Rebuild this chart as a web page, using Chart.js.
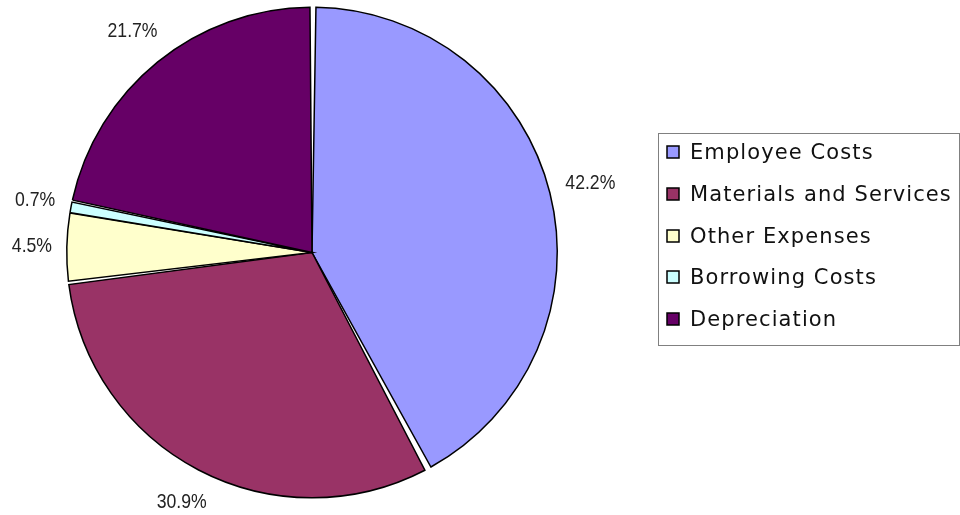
<!DOCTYPE html>
<html>
<head>
<meta charset="utf-8">
<title>Expenses by Type</title>
<script src="https://cdn.jsdelivr.net/npm/chart.js@4.4.1/dist/chart.umd.min.js"></script>
<style>
  html, body { margin: 0; padding: 0; background: #ffffff; }
  #wrap { width: 960px; height: 515px; position: relative; }
</style>
</head>
<body>
<div id="wrap"><canvas id="chart" width="960" height="515"></canvas></div>
<script>
// Expense categories and their share of total (%)
const categories = ['Employee Costs', 'Materials and Services', 'Other Expenses', 'Borrowing Costs', 'Depreciation'];
const shares = [42.2, 30.9, 4.5, 0.7, 21.7];
const sliceColors = ['#9999FF', '#993366', '#FFFFCC', '#CCFFFF', '#660066'];

// Percentage labels placed just outside each slice (condensed lettering)
const outerLabels = {
  id: 'outerLabels',
  afterDatasetsDraw(chart) {
    const ctx = chart.ctx;
    const meta = chart.getDatasetMeta(0);
    const squeeze = 0.84;
    ctx.save();
    ctx.font = '21px "Liberation Sans", "Arial", sans-serif';
    ctx.fillStyle = '#222222';
    ctx.textAlign = 'center';
    ctx.textBaseline = 'middle';
    meta.data.forEach((arc, i) => {
      const p = arc.getProps(['x', 'y', 'startAngle', 'endAngle', 'outerRadius'], true);
      const mid = (p.startAngle + p.endAngle) / 2;
      const text = shares[i].toFixed(1) + '%';
      const w = ctx.measureText(text).width * squeeze;
      const d = p.outerRadius + 16 + Math.abs(Math.cos(mid)) * w / 2 + Math.abs(Math.sin(mid)) * 12;
      const x = p.x + Math.cos(mid) * d;
      const y = p.y + Math.sin(mid) * d;
      ctx.save();
      ctx.translate(x, y);
      ctx.scale(squeeze, 1);
      ctx.fillText(text, 0, 0);
      ctx.restore();
    });
    ctx.restore();
  }
};

// Boxed legend on the right
const boxedLegend = {
  id: 'boxedLegend',
  afterDraw(chart) {
    const ctx = chart.ctx;
    const left = 658.5, top = 133.5, width = 301, height = 212;
    ctx.save();
    ctx.strokeStyle = '#808080';
    ctx.lineWidth = 1;
    ctx.strokeRect(left, top, width, height);
    ctx.font = '21px "DejaVu Sans", "Open Sans", sans-serif';
    ctx.letterSpacing = '1.1px';
    ctx.textBaseline = 'middle';
    ctx.textAlign = 'left';
    const rowY = [152, 194, 236, 277, 319];
    chart.data.labels.forEach((label, i) => {
      const y = rowY[i];
      ctx.fillStyle = chart.data.datasets[0].backgroundColor[i];
      ctx.fillRect(667, y - 6, 12, 12);
      ctx.strokeStyle = '#000000';
      ctx.lineWidth = 1.5;
      ctx.strokeRect(667, y - 6, 12, 12);
      ctx.fillStyle = '#111111';
      ctx.fillText(label, 690, y + 2);
    });
    ctx.restore();
  }
};

new Chart(document.getElementById('chart'), {
  type: 'pie',
  data: {
    labels: categories,
    datasets: [{
      data: shares,
      backgroundColor: sliceColors,
      borderColor: '#000000',
      borderWidth: 1.5,
      spacing: 3,
      borderJoinStyle: 'miter'
    }]
  },
  options: {
    responsive: false,
    animation: false,
    layout: { padding: { left: 66, right: 402, top: 6, bottom: 16 } },
    plugins: {
      legend: { display: false },
      tooltip: { enabled: false }
    }
  },
  plugins: [outerLabels, boxedLegend]
});
</script>
</body>
</html>
